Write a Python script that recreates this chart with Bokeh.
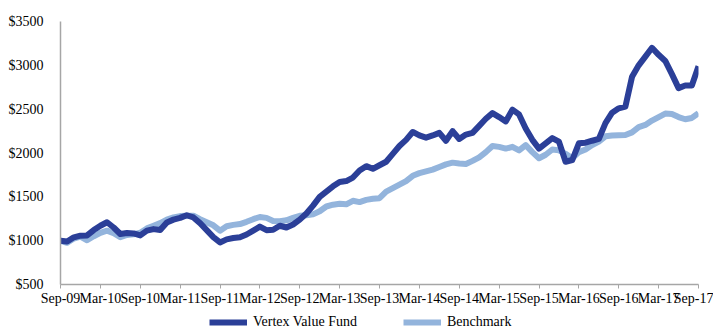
from bokeh.plotting import figure
from bokeh.layouts import column
from bokeh.models import ColumnDataSource, FixedTicker, Legend, LegendItem, Range1d, NumeralTickFormatter
from bokeh.embed import file_html
from bokeh.resources import INLINE

tick_labels = ["Sep-09", "Mar-10", "Sep-10", "Mar-11", "Sep-11", "Mar-12", "Sep-12", "Mar-13",
               "Sep-13", "Mar-14", "Sep-14", "Mar-15", "Sep-15", "Mar-16", "Sep-16", "Mar-17", "Sep-17"]

fund = [1000, 990, 1038, 1057, 1060, 1121, 1170, 1210, 1150, 1076, 1087, 1083, 1060, 1114, 1132, 1121,
        1208, 1240, 1260, 1290, 1265, 1200, 1120, 1040, 980, 1015, 1030, 1038, 1070, 1114, 1160, 1120,
        1125, 1170, 1150, 1185, 1240, 1310, 1400, 1500, 1560, 1620, 1670, 1680, 1720, 1800, 1850, 1820,
        1860, 1900, 1990, 2080, 2150, 2240, 2200, 2175, 2200, 2230, 2140, 2250, 2160, 2210, 2230, 2310,
        2390, 2455, 2410, 2360, 2495, 2440, 2280, 2150, 2050, 2110, 2170, 2130, 1900, 1920, 2110, 2118,
        2140, 2160, 2340, 2460, 2510, 2530, 2870, 3000, 3100, 3200, 3120, 3050, 2900, 2740, 2770, 2770,
        2990]

benchmark = [1000, 975, 1025, 1045, 1005, 1050, 1090, 1114, 1085, 1040, 1065, 1072, 1090, 1140, 1170, 1200,
             1240, 1265, 1280, 1284, 1284, 1245, 1210, 1175, 1114, 1165, 1180, 1189, 1215, 1245, 1270, 1260,
             1225, 1222, 1232, 1260, 1284, 1290, 1300, 1335, 1390, 1410, 1420, 1415, 1455, 1440, 1465, 1478,
             1485, 1560, 1600, 1640, 1680, 1740, 1770, 1790, 1810, 1840, 1870, 1890, 1880, 1875, 1910, 1950,
             2010, 2080, 2070, 2050, 2070, 2030, 2090, 2010, 1940, 1980, 2040, 2030, 1990, 1940, 2010, 2040,
             2090, 2130, 2190, 2200, 2203, 2205, 2235, 2295, 2320, 2370, 2410, 2450, 2445, 2410, 2385, 2400,
             2455]

series_names = ["Vertex Value Fund", "Benchmark"]

months = list(range(len(fund)))
tick_positions = list(range(0, len(fund), 6))

DARK = "#2B3F98"
LIGHT = "#93B4DC"
FONT = "Liberation Serif"

src = ColumnDataSource(dict(m=months, fund=fund, bench=benchmark))

p = figure(width=713, height=312, output_backend="svg", toolbar_location=None,
           x_range=Range1d(0, 96), y_range=Range1d(500, 3500),
           min_border_left=60, min_border_right=15, min_border_top=21, min_border_bottom=28)
p.outline_line_color = None
p.xgrid.grid_line_color = None
p.ygrid.grid_line_color = None
p.background_fill_color = "white"
p.border_fill_color = "white"

r_b = p.line("m", "bench", source=src, line_color=LIGHT, line_width=6, line_join="round")
r_f = p.line("m", "fund", source=src, line_color=DARK, line_width=6, line_join="round")

xa = p.xaxis[0]
xa.ticker = FixedTicker(ticks=tick_positions)
xa.major_label_overrides = {t: lab for t, lab in zip(tick_positions, tick_labels)}
xa.axis_line_color = "#A6A6A6"
xa.axis_line_width = 1.5
xa.major_tick_line_color = "#A6A6A6"
xa.major_tick_out = 4
xa.major_tick_in = 0
xa.minor_tick_line_color = None
xa.major_label_standoff = 2
xa.major_label_text_font = FONT
xa.major_label_text_font_size = "14px"
xa.major_label_text_color = "black"

ya = p.yaxis[0]
ya.ticker = FixedTicker(ticks=[500, 1000, 1500, 2000, 2500, 3000, 3500])
ya.formatter = NumeralTickFormatter(format="$0")
ya.axis_line_color = "#A6A6A6"
ya.axis_line_width = 1.5
ya.major_tick_line_color = None
ya.minor_tick_line_color = None
ya.major_label_standoff = 11
ya.major_label_text_font = FONT
ya.major_label_text_font_size = "14px"
ya.major_label_text_color = "black"

# legend strip (same series, ranges chosen so the lines themselves fall outside this strip)
lg = figure(width=713, height=18, output_backend="svg", toolbar_location=None,
            x_axis_type=None, y_axis_type=None, x_range=Range1d(0, 1), y_range=Range1d(0, 1),
            min_border_left=60, min_border_right=15, min_border_top=0, min_border_bottom=0)
lg.outline_line_color = None
lg.xgrid.grid_line_color = None
lg.ygrid.grid_line_color = None
lf = lg.line("m", "fund", source=src, line_color=DARK, line_width=6)
lb = lg.line("m", "bench", source=src, line_color=LIGHT, line_width=6)

legend = Legend(items=[LegendItem(label=series_names[0], renderers=[lf]),
                       LegendItem(label=series_names[1], renderers=[lb])],
                orientation="horizontal", location=(149, 0),
                label_text_font=FONT, label_text_font_size="14px", label_text_color="black",
                glyph_width=38, glyph_height=10, label_standoff=6, spacing=46,
                label_height=10, padding=0, margin=0,
                border_line_color=None, background_fill_alpha=0)
lg.add_layout(legend, "center")

layout = column(p, lg, spacing=0)
open("out.html", "w").write(file_html(layout, INLINE))
